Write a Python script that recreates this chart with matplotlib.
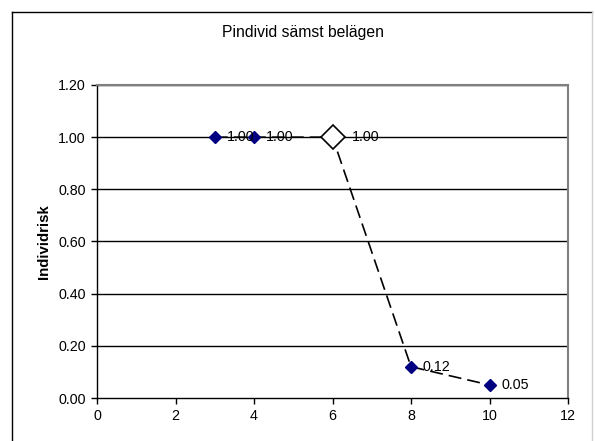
import matplotlib
matplotlib.use("Agg")
import matplotlib.pyplot as plt
from matplotlib.lines import Line2D

plt.rcParams['font.family'] = ['Liberation Sans', 'DejaVu Sans']

x_vals = [3, 4, 6, 8, 10]
y_vals = [1.00, 1.00, 1.00, 0.12, 0.05]
labels = ["1.00", "1.00", "1.00", "0.12", "0.05"]
highlight_index = 2
title = "Pindivid sämst belägen"
ylabel = "Individrisk"
yticks = [0.0, 0.2, 0.4, 0.6, 0.8, 1.0, 1.2]
xticks = [0, 2, 4, 6, 8, 10, 12]

FS = 10.3
W, H = 595, 441
fig = plt.figure(figsize=(W / 100, H / 100), dpi=100)
left, right, top, bottom = 97, 568, 85, 398
ax = fig.add_axes([left / W, 1 - bottom / H, (right - left) / W, (bottom - top) / H])

for yt in yticks[1:]:
    ax.axhline(yt, color='black', lw=1.0, zorder=1)

ax.plot(x_vals, y_vals, color='black', lw=1.2, ls=(0, (7.8, 3.6)), zorder=2)
normal = [i for i in range(len(x_vals)) if i != highlight_index]
ax.plot([x_vals[i] for i in normal], [y_vals[i] for i in normal], ls='none',
        marker='D', ms=6, mfc='#000080', mec='#000080', zorder=3)
ax.plot([x_vals[highlight_index]], [y_vals[highlight_index]], ls='none',
        marker='D', ms=12, mfc='white', mec='black', mew=1.2, zorder=4)

for i, (xv, yv, lab) in enumerate(zip(x_vals, y_vals, labels)):
    off = 14 if i == highlight_index else 8.5
    ax.annotate(lab, (xv, yv), xytext=(off, 0), textcoords='offset points',
                va='center', ha='left', fontsize=FS, zorder=5)

ax.set_xlim(0, 12)
ax.set_ylim(0, 1.2)
ax.set_xticks(xticks)
ax.set_xticklabels([str(v) for v in xticks])
ax.set_yticks(yticks)
ax.set_yticklabels([f"{v:.2f}" for v in yticks])
ax.tick_params(direction='out', length=4, width=1, labelsize=FS, pad=4, colors='black')
for s in ['left', 'bottom']:
    ax.spines[s].set_color('black')
    ax.spines[s].set_linewidth(1)
for s in ['top', 'right']:
    ax.spines[s].set_color('#808080')
    ax.spines[s].set_linewidth(1.5)
ax.set_ylabel(ylabel, fontsize=10.8, fontweight='bold', labelpad=5)

fig.text(303 / W, 1 - 33 / H, title, ha='center', va='center', fontsize=11.3)

# outer chart border
fig.add_artist(Line2D([12 / W, 12 / W], [0, 1 - 12 / H], color='black', lw=1, transform=fig.transFigure))
fig.add_artist(Line2D([12 / W, 592 / W], [1 - 12 / H, 1 - 12 / H], color='black', lw=1, transform=fig.transFigure))
fig.add_artist(Line2D([592 / W, 592 / W], [0, 1 - 12 / H], color='#d0d0d0', lw=1, transform=fig.transFigure))

fig.savefig("out.png", dpi=100)
